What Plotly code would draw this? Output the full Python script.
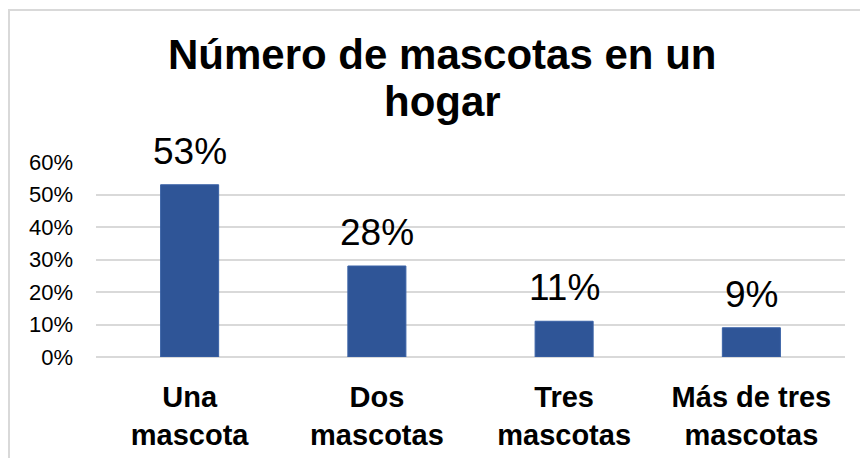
import plotly.graph_objects as go

# Share of households by number of pets
categories = ["Una<br>mascota", "Dos<br>mascotas", "Tres<br>mascotas", "Más de tres<br>mascotas"]
shares = [0.53, 0.28, 0.11, 0.09]
tick_values = [0, 0.1, 0.2, 0.3, 0.4, 0.5, 0.6]
tick_labels = ["0%", "10%", "20%", "30%", "40%", "50%", "60%"]
title_lines = ["Número de mascotas en un", "hogar"]

W, H = 860, 458
L, R, T, B = 96, 15, 162, 101
FONT = "Liberation Sans, Arial, sans-serif"
GRID = "#D9D9D9"
TITLE_FONT = dict(family=FONT, size=42, color="#000000", weight="bold")

fig = go.Figure(
    go.Bar(
        x=categories,
        y=shares,
        marker=dict(color="#2F5597", line=dict(color="#3A62A6", width=1)),
        width=0.31,
        hoverinfo="skip",
    )
)

# value labels above each bar
for cat, val in zip(categories, shares):
    fig.add_annotation(
        x=cat, y=val, xref="x", yref="y",
        text=f"{val:.0%}", showarrow=False,
        yanchor="bottom", yshift=11,
        font=dict(family=FONT, size=37, color="#000000"),
    )

# chart frame, its left and top edges in view
px = lambda p: (p - L) / (W - L - R)
py = lambda p: (H - B - p) / (H - T - B)
fig.add_shape(type="rect", xref="paper", yref="paper",
              x0=px(9), x1=px(900), y0=py(10), y1=py(500),
              line=dict(color=GRID, width=2), fillcolor="rgba(0,0,0,0)",
              layer="below")

# title, set line by line for a tight leading
for line, centre_y in zip(title_lines, [55, 101]):
    fig.add_annotation(
        x=px(442), y=py(centre_y), xref="paper", yref="paper",
        text=line, showarrow=False, xanchor="center", yanchor="middle",
        font=TITLE_FONT,
    )

fig.update_layout(
    width=W, height=H,
    margin=dict(l=L, r=R, t=T, b=B, autoexpand=False),
    paper_bgcolor="white", plot_bgcolor="white",
    showlegend=False,
    xaxis=dict(
        showgrid=False, showline=False, zeroline=False, automargin=False,
        tickfont=dict(family=FONT, size=29, color="#000000", weight="bold"),
        ticks="", ticklabelstandoff=20,
    ),
    yaxis=dict(
        range=[0, 0.6], automargin=False,
        tickvals=tick_values, ticktext=tick_labels,
        showgrid=True, gridcolor=GRID, gridwidth=1.5,
        zeroline=True, zerolinecolor=GRID, zerolinewidth=1.5,
        showline=False, ticks="", ticklabelstandoff=22,
        tickfont=dict(family=FONT, size=22, color="#000000"),
    ),
)

fig.write_html("out.html")
